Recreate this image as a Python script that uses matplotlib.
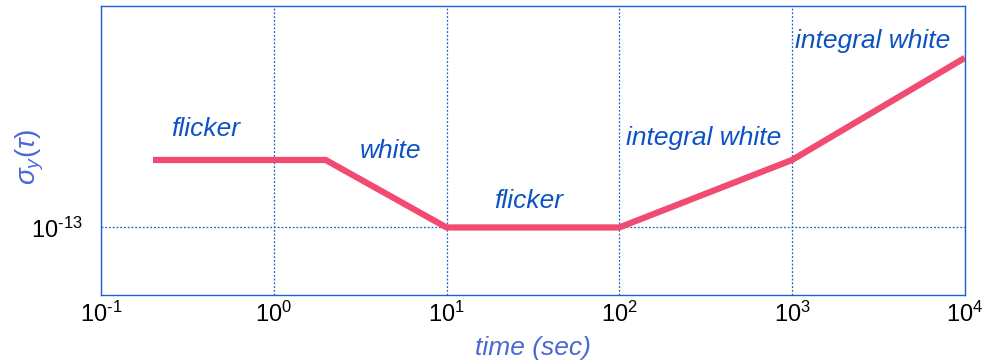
import matplotlib.pyplot as plt

plt.rcParams['font.family'] = ['Liberation Sans', 'DejaVu Sans']
plt.rcParams['mathtext.fontset'] = 'custom'
plt.rcParams['mathtext.rm'] = 'Liberation Sans'
plt.rcParams['mathtext.it'] = 'Liberation Sans:italic'

# tau (s) vs sigma_y(tau), piecewise noise regimes
tau = [0.2, 2, 10, 100, 1000, 10000]
sigma = [3.2e-13, 3.2e-13, 1e-13, 1e-13, 3.2e-13, 1.86e-12]

labels = ["flicker", "white", "flicker", "integral white", "integral white"]
label_x = [0.405, 4.74, 29.8, 306, 2940]
label_y = [5.5e-13, 3.75e-13, 1.59e-13, 4.7e-13, 2.49e-12]

xticks = [1e-1, 1e0, 1e1, 1e2, 1e3, 1e4]
xticklabels = [r'$\mathregular{10^{\text{-1}}}$', r'$\mathregular{10^{0}}$', r'$\mathregular{10^{1}}$',
               r'$\mathregular{10^{2}}$', r'$\mathregular{10^{3}}$', r'$\mathregular{10^{4}}$']

blue = '#1f5fcf'
text_blue = '#0d52c4'
label_blue = '#4a68d4'

fig = plt.figure(figsize=(9.85, 3.6), dpi=100)
ax = fig.add_axes([0.1025, 0.18, 0.877, 0.803])

ax.plot(tau, sigma, color='#f24b71', lw=4.5, solid_capstyle='butt', solid_joinstyle='miter', zorder=3)

ax.set_xscale('log')
ax.set_yscale('log')
ax.set_xlim(1e-1, 1e4)
ax.set_ylim(3.11e-14, 4.54e-12)

ax.set_xticks(xticks)
ax.set_xticklabels(xticklabels, fontsize=17)
ax.set_yticks([1e-13])
ax.set_yticklabels([r'$\mathregular{10^{\text{-13}}}$'], fontsize=17)
ax.minorticks_off()
ax.tick_params(axis='x', length=0, pad=5)
ax.tick_params(axis='y', length=0, pad=13)

ax.grid(True, color=blue, linestyle=(0, (1.5, 1.5)), linewidth=0.9)
for s in ax.spines.values():
    s.set_color(blue)
    s.set_linewidth(1.0)

for t, x, y in zip(labels, label_x, label_y):
    ax.text(x, y, t, color=text_blue, fontsize=19, style='italic', ha='center', va='center')

ax.set_xlabel('time (sec)', color=label_blue, fontsize=19, style='italic', labelpad=6)
ax.set_ylabel(r'$\sigma_y(\tau)$', color=label_blue, fontsize=20)
ax.yaxis.set_label_coords(-0.064, 0.48)

fig.savefig('out.png', dpi=100)
